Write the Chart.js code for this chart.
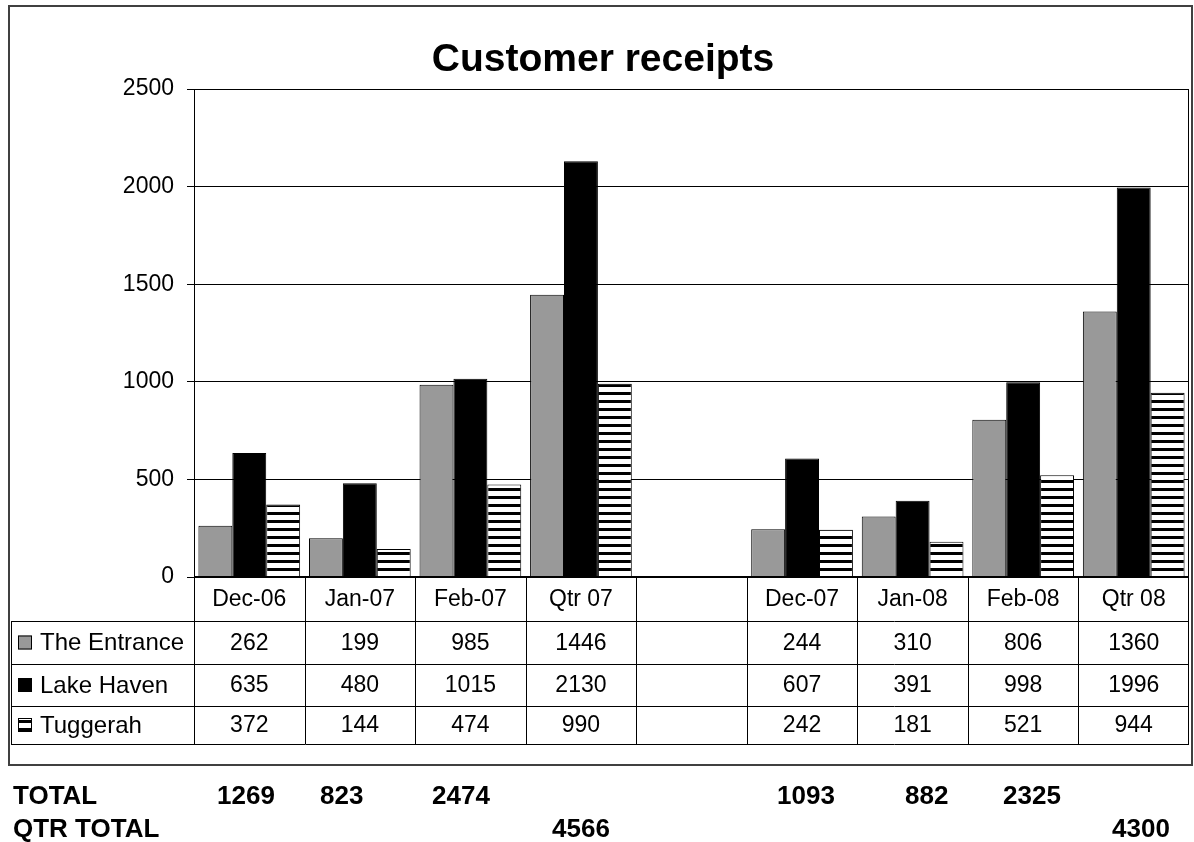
<!DOCTYPE html>
<html>
<head>
<meta charset="utf-8">
<script src="https://cdn.jsdelivr.net/npm/chart.js@4"></script>
<style>
    html, body { margin: 0; padding: 0; background: #fff; }
</style>
</head>
<body>
<canvas id="grafico" width="1194" height="842"></canvas>
<script>
const CATEGORIAS = ['Dec-06', 'Jan-07', 'Feb-07', 'Qtr 07', '', 'Dec-07', 'Jan-08', 'Feb-08', 'Qtr 08'];
const THE_ENTRANCE = [262, 199, 985, 1446, null, 244, 310, 806, 1360];
const LAKE_HAVEN = [635, 480, 1015, 2130, null, 607, 391, 998, 1996];
const TUGGERAH = [372, 144, 474, 990, null, 242, 181, 521, 944];
const TICKS_Y = [0, 500, 1000, 1500, 2000, 2500];

// Filas de totales bajo el gráfico
const TOTALES = [1269, 823, 2474, 1093, 882, 2325];
const TOTALES_QTR = [4566, 4300];
const TOTALES_X = [217, 320, 432, 777, 905, 1003];
const TOTALES_QTR_X = [552, 1112];

const COLOR_GRIS = '#999999';
const COLOR_NEGRO = '#000000';
const FUENTE = '"Liberation Sans", Arial, sans-serif';

function crearRayado() {
    const c = document.createElement('canvas');
    c.width = 8;
    c.height = 8;
    const g = c.getContext('2d');
    g.fillStyle = '#ffffff';
    g.fillRect(0, 0, 8, 8);
    g.fillStyle = '#000000';
    g.fillRect(0, 0, 8, 3);
    return g.createPattern(c, 'repeat');
}
const RAYADO = crearRayado();

const series = [
    { label: 'The Entrance', data: THE_ENTRANCE, color: COLOR_GRIS },
    { label: 'Lake Haven', data: LAKE_HAVEN, color: COLOR_NEGRO },
    { label: 'Tuggerah', data: TUGGERAH, color: RAYADO }
];

// Título, tabla de datos, totales y marco, dibujados sobre el canvas
const tablaPlugin = {
    id: 'tabla',
    afterDraw(chart) {
        const { ctx, chartArea: a, scales: { x } } = chart;
        const n = CATEGORIAS.length;
        const w = (a.right - a.left) / n;
        const filas = [a.bottom, a.bottom + 44, a.bottom + 87, a.bottom + 129, a.bottom + 167];
        const izq = 11;

        ctx.save();
        ctx.strokeStyle = '#000';
        ctx.lineWidth = 1;

        // borde derecho del área de trazado
        ctx.beginPath();
        ctx.moveTo(Math.round(a.right) - 0.5, a.top);
        ctx.lineTo(Math.round(a.right) - 0.5, a.bottom);
        ctx.stroke();

        // líneas horizontales de la tabla
        ctx.beginPath();
        for (let i = 1; i < filas.length; i++) {
            ctx.moveTo(izq, Math.round(filas[i]) + 0.5);
            ctx.lineTo(a.right, Math.round(filas[i]) + 0.5);
        }
        // líneas verticales
        for (let i = 0; i <= n; i++) {
            const px = Math.round(a.left + i * w) + (i === n ? -0.5 : 0.5);
            ctx.moveTo(px, a.bottom);
            ctx.lineTo(px, filas[4]);
        }
        ctx.moveTo(izq + 0.5, filas[1]);
        ctx.lineTo(izq + 0.5, filas[4]);
        ctx.stroke();

        // eje x grueso
        ctx.lineWidth = 2;
        ctx.beginPath();
        ctx.moveTo(a.left, a.bottom);
        ctx.lineTo(a.right, a.bottom);
        ctx.stroke();

        // textos de la tabla
        ctx.fillStyle = '#000';
        ctx.font = '23px ' + FUENTE;
        ctx.textAlign = 'center';
        ctx.textBaseline = 'middle';
        CATEGORIAS.forEach((c, i) => {
            ctx.fillText(c, x.getPixelForValue(i), (filas[0] + filas[1]) / 2 + 1);
        });
        series.forEach((s, r) => {
            const yc = (filas[r + 1] + filas[r + 2]) / 2 + 1;
            ctx.font = '23px ' + FUENTE;
            s.data.forEach((v, i) => {
                if (v !== null) ctx.fillText(String(v), x.getPixelForValue(i), yc);
            });
            // clave de la leyenda
            ctx.fillStyle = s.color;
            ctx.fillRect(18, yc - 8, 14, 14);
            ctx.lineWidth = 1;
            ctx.strokeRect(18.5, yc - 7.5, 13, 13);
            ctx.fillStyle = '#000';
            ctx.textAlign = 'left';
            ctx.font = '24px ' + FUENTE;
            ctx.fillText(s.label, 40, yc);
            ctx.textAlign = 'center';
        });

        // título
        ctx.font = 'bold 39px ' + FUENTE;
        ctx.textBaseline = 'alphabetic';
        ctx.fillText('Customer receipts', 603, 71);

        // marco exterior
        ctx.strokeStyle = '#404040';
        ctx.lineWidth = 2;
        ctx.strokeRect(9, 6, 1183, 759);

        // totales
        ctx.fillStyle = '#000';
        ctx.font = 'bold 26px ' + FUENTE;
        ctx.textAlign = 'left';
        ctx.fillText('TOTAL', 13, 804);
        ctx.fillText('QTR TOTAL', 13, 837);
        TOTALES.forEach((t, i) => ctx.fillText(String(t), TOTALES_X[i], 804));
        TOTALES_QTR.forEach((t, i) => ctx.fillText(String(t), TOTALES_QTR_X[i], 837));
        ctx.restore();
    }
};

new Chart(document.getElementById('grafico'), {
    type: 'bar',
    data: {
        labels: CATEGORIAS,
        datasets: series.map((s) => ({
            label: s.label,
            data: s.data,
            backgroundColor: s.color,
            borderColor: '#000',
            borderWidth: 1,
            categoryPercentage: 0.92,
            barPercentage: 1.0
        }))
    },
    options: {
        responsive: false,
        animation: false,
        layout: { padding: { left: 9, top: 89, right: 5, bottom: 265 } },
        plugins: {
            legend: { display: false },
            tooltip: { enabled: false }
        },
        scales: {
            x: { display: false },
            y: {
                min: 0,
                max: 2500,
                afterFit: (s) => { s.width = 185; },
                afterBuildTicks: (s) => { s.ticks = TICKS_Y.map((v) => ({ value: v })); },
                grid: { color: '#000', lineWidth: 1, tickLength: 7, tickColor: '#000' },
                border: { display: true, color: '#000', width: 1 },
                ticks: {
                    color: '#000',
                    padding: 13,
                    font: { family: FUENTE, size: 23 },
                    callback: (v) => String(v)
                }
            }
        }
    },
    plugins: [tablaPlugin]
});
</script>
</body>
</html>
